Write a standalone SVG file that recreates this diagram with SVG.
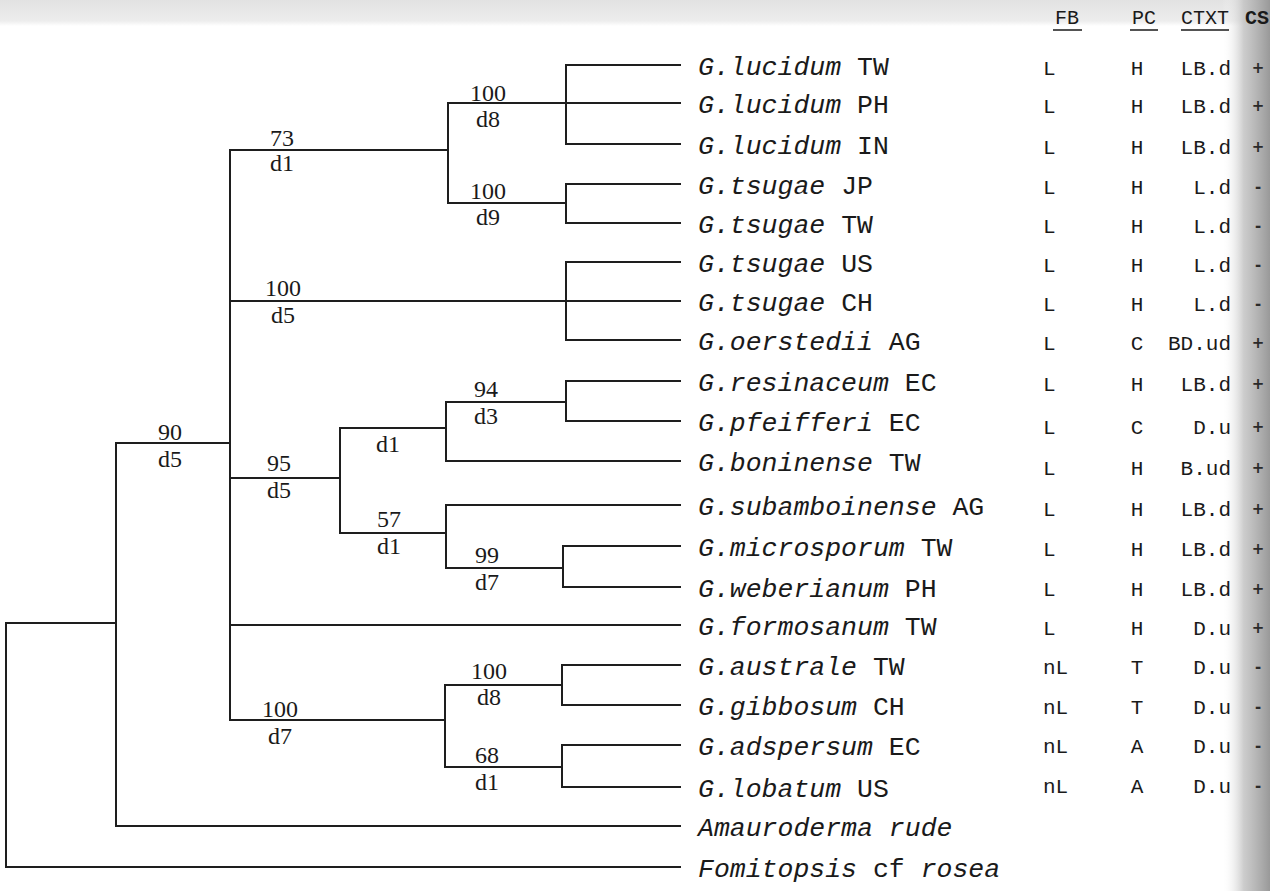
<svg xmlns="http://www.w3.org/2000/svg" width="1270" height="891" viewBox="0 0 1270 891">
  <defs>
    <linearGradient id="shadow" x1="0" y1="0" x2="1" y2="0">
      <stop offset="0" stop-color="#ffffff" stop-opacity="0"/>
      <stop offset="0.45" stop-color="#c4c4c4" stop-opacity="0.85"/>
      <stop offset="1" stop-color="#999999" stop-opacity="1"/>
    </linearGradient>
    <linearGradient id="topband" x1="0" y1="0" x2="0" y2="1">
      <stop offset="0" stop-color="#e2e2e2"/>
      <stop offset="0.8" stop-color="#ededed"/>
      <stop offset="1" stop-color="#ffffff"/>
    </linearGradient>
  </defs>
  <style>
    .br { fill: none; stroke: #1e1e1e; stroke-width: 2; stroke-linecap: square; }
    .tx { font-family: "Liberation Mono", "Courier New", monospace; font-size: 26.5px; fill: #1a1a1a; }
    .it { font-style: italic; }
    .sup { font-family: "Liberation Serif", "Times New Roman", serif; font-size: 24px; fill: #1a1a1a; text-anchor: middle; }
    .col { font-family: "Liberation Mono", "Courier New", monospace; font-size: 21px; fill: #1a1a1a; }
    .fb { text-anchor: start; }
    .pc { text-anchor: middle; }
    .ct { text-anchor: end; }
    .hd { font-family: "Liberation Mono", "Courier New", monospace; font-size: 20px; fill: #1a1a1a; }
    .ul { stroke: #1a1a1a; stroke-width: 1.5; }
    .sg { font-family: "DejaVu Sans", sans-serif; font-size: 15px; font-weight: bold; fill: #2a2a2a; text-anchor: middle; }
  </style>

  <rect x="0" y="0" width="1270" height="891" fill="#ffffff"/>
  <rect x="0" y="0" width="1270" height="26" fill="url(#topband)"/>
  <rect x="1222" y="0" width="48" height="891" fill="url(#shadow)"/>

  <!-- column headers -->
  <g id="headers">
    <text class="hd" x="1067" y="24" text-anchor="middle">FB</text>
    <line class="ul" x1="1053" y1="30" x2="1082" y2="30"/>
    <text class="hd" x="1144" y="24" text-anchor="middle">PC</text>
    <line class="ul" x1="1130" y1="30" x2="1158" y2="30"/>
    <text class="hd" x="1205" y="24" text-anchor="middle">CTXT</text>
    <line class="ul" x1="1181" y1="30" x2="1229" y2="30"/>
    <text class="hd" x="1245" y="24" font-size="15" font-weight="bold">CS</text>
  </g>

  <!-- connectors (tree branches) -->
  <g id="connectors">
    <path class="br" d="
      M6,623 V867 M6,623 H116 M6,867 H680
      M116,443 V826 M116,443 H230 M116,826 H680
      M230,150 V720
      M230,150 H448 M448,103 V203
      M448,103 H680 M566,65 V144 M566,65 H680 M566,144 H680
      M448,203 H566 M566,184 V223 M566,184 H680 M566,223 H680
      M230,301 H680 M566,262 V340 M566,262 H680 M566,340 H680
      M230,478 H340 M340,428 V533
      M340,428 H446 M446,402 V461 M446,461 H680
      M446,402 H566 M566,381 V421 M566,381 H680 M566,421 H680
      M340,533 H446 M446,505 V568 M446,505 H680
      M446,568 H563 M563,546 V587 M563,546 H680 M563,587 H680
      M230,625 H680
      M230,720 H445 M445,685 V767
      M445,685 H562 M562,665 V705 M562,665 H680 M562,705 H680
      M445,767 H562 M562,745 V787 M562,745 H680 M562,787 H680
    "/>
  </g>

  <!-- support / distance labels of internal nodes -->
  <g id="n-root90"><text class="sup" x="170" y="440">90</text><text class="sup" x="170" y="467">d5</text></g>
  <g id="n-lucts"><text class="sup" x="282" y="146">73</text><text class="sup" x="282" y="171">d1</text></g>
  <g id="n-luc"><text class="sup" x="488" y="101">100</text><text class="sup" x="488" y="127">d8</text></g>
  <g id="n-tsjp"><text class="sup" x="488" y="199">100</text><text class="sup" x="488" y="225">d9</text></g>
  <g id="n-tsus"><text class="sup" x="283" y="296">100</text><text class="sup" x="283" y="323">d5</text></g>
  <g id="n-95"><text class="sup" x="279" y="471">95</text><text class="sup" x="279" y="498">d5</text></g>
  <g id="n-res-bon"><text class="sup" x="388" y="452">d1</text></g>
  <g id="n-res"><text class="sup" x="486" y="397">94</text><text class="sup" x="486" y="424">d3</text></g>
  <g id="n-57"><text class="sup" x="389" y="527">57</text><text class="sup" x="389" y="554">d1</text></g>
  <g id="n-mic"><text class="sup" x="487" y="563">99</text><text class="sup" x="487" y="590">d7</text></g>
  <g id="n-aus-lob"><text class="sup" x="280" y="717">100</text><text class="sup" x="280" y="744">d7</text></g>
  <g id="n-aus"><text class="sup" x="489" y="679">100</text><text class="sup" x="489" y="705">d8</text></g>
  <g id="n-ads"><text class="sup" x="487" y="763">68</text><text class="sup" x="487" y="790">d1</text></g>

  <!-- leaves -->
  <g id="leaf-lucidum-TW"><text class="tx" x="698" y="75"><tspan class="it">G.lucidum</tspan> TW</text>
    <text class="col fb" x="1043" y="75">L</text><text class="col pc" x="1137" y="75">H</text><text class="col ct" x="1231" y="75">LB.d</text><text class="sg" x="1258" y="73">+</text></g>
  <g id="leaf-lucidum-PH"><text class="tx" x="698" y="113"><tspan class="it">G.lucidum</tspan> PH</text>
    <text class="col fb" x="1043" y="113">L</text><text class="col pc" x="1137" y="113">H</text><text class="col ct" x="1231" y="113">LB.d</text><text class="sg" x="1258" y="111">+</text></g>
  <g id="leaf-lucidum-IN"><text class="tx" x="698" y="154"><tspan class="it">G.lucidum</tspan> IN</text>
    <text class="col fb" x="1043" y="154">L</text><text class="col pc" x="1137" y="154">H</text><text class="col ct" x="1231" y="154">LB.d</text><text class="sg" x="1258" y="152">+</text></g>
  <g id="leaf-tsugae-JP"><text class="tx" x="698" y="194"><tspan class="it">G.tsugae</tspan> JP</text>
    <text class="col fb" x="1043" y="194">L</text><text class="col pc" x="1137" y="194">H</text><text class="col ct" x="1231" y="194">L.d</text><text class="sg" x="1258" y="192">-</text></g>
  <g id="leaf-tsugae-TW"><text class="tx" x="698" y="233"><tspan class="it">G.tsugae</tspan> TW</text>
    <text class="col fb" x="1043" y="233">L</text><text class="col pc" x="1137" y="233">H</text><text class="col ct" x="1231" y="233">L.d</text><text class="sg" x="1258" y="231">-</text></g>
  <g id="leaf-tsugae-US"><text class="tx" x="698" y="272"><tspan class="it">G.tsugae</tspan> US</text>
    <text class="col fb" x="1043" y="272">L</text><text class="col pc" x="1137" y="272">H</text><text class="col ct" x="1231" y="272">L.d</text><text class="sg" x="1258" y="270">-</text></g>
  <g id="leaf-tsugae-CH"><text class="tx" x="698" y="311"><tspan class="it">G.tsugae</tspan> CH</text>
    <text class="col fb" x="1043" y="311">L</text><text class="col pc" x="1137" y="311">H</text><text class="col ct" x="1231" y="311">L.d</text><text class="sg" x="1258" y="309">-</text></g>
  <g id="leaf-oerstedii-AG"><text class="tx" x="698" y="350"><tspan class="it">G.oerstedii</tspan> AG</text>
    <text class="col fb" x="1043" y="350">L</text><text class="col pc" x="1137" y="350">C</text><text class="col ct" x="1231" y="350">BD.ud</text><text class="sg" x="1258" y="348">+</text></g>
  <g id="leaf-resinaceum-EC"><text class="tx" x="698" y="391"><tspan class="it">G.resinaceum</tspan> EC</text>
    <text class="col fb" x="1043" y="391">L</text><text class="col pc" x="1137" y="391">H</text><text class="col ct" x="1231" y="391">LB.d</text><text class="sg" x="1258" y="389">+</text></g>
  <g id="leaf-pfeifferi-EC"><text class="tx" x="698" y="431"><tspan class="it">G.pfeifferi</tspan> EC</text>
    <text class="col fb" x="1043" y="434">L</text><text class="col pc" x="1137" y="434">C</text><text class="col ct" x="1231" y="434">D.u</text><text class="sg" x="1258" y="432">+</text></g>
  <g id="leaf-boninense-TW"><text class="tx" x="698" y="471"><tspan class="it">G.boninense</tspan> TW</text>
    <text class="col fb" x="1043" y="475">L</text><text class="col pc" x="1137" y="475">H</text><text class="col ct" x="1231" y="475">B.ud</text><text class="sg" x="1258" y="473">+</text></g>
  <g id="leaf-subamboinense-AG"><text class="tx" x="698" y="515"><tspan class="it">G.subamboinense</tspan> AG</text>
    <text class="col fb" x="1043" y="516">L</text><text class="col pc" x="1137" y="516">H</text><text class="col ct" x="1231" y="516">LB.d</text><text class="sg" x="1258" y="514">+</text></g>
  <g id="leaf-microsporum-TW"><text class="tx" x="698" y="556"><tspan class="it">G.microsporum</tspan> TW</text>
    <text class="col fb" x="1043" y="556">L</text><text class="col pc" x="1137" y="556">H</text><text class="col ct" x="1231" y="556">LB.d</text><text class="sg" x="1258" y="554">+</text></g>
  <g id="leaf-weberianum-PH"><text class="tx" x="698" y="597"><tspan class="it">G.weberianum</tspan> PH</text>
    <text class="col fb" x="1043" y="596">L</text><text class="col pc" x="1137" y="596">H</text><text class="col ct" x="1231" y="596">LB.d</text><text class="sg" x="1258" y="594">+</text></g>
  <g id="leaf-formosanum-TW"><text class="tx" x="698" y="635"><tspan class="it">G.formosanum</tspan> TW</text>
    <text class="col fb" x="1043" y="635">L</text><text class="col pc" x="1137" y="635">H</text><text class="col ct" x="1231" y="635">D.u</text><text class="sg" x="1258" y="633">+</text></g>
  <g id="leaf-australe-TW"><text class="tx" x="698" y="675"><tspan class="it">G.australe</tspan> TW</text>
    <text class="col fb" x="1043" y="674">nL</text><text class="col pc" x="1137" y="674">T</text><text class="col ct" x="1231" y="674">D.u</text><text class="sg" x="1258" y="672">-</text></g>
  <g id="leaf-gibbosum-CH"><text class="tx" x="698" y="715"><tspan class="it">G.gibbosum</tspan> CH</text>
    <text class="col fb" x="1043" y="714">nL</text><text class="col pc" x="1137" y="714">T</text><text class="col ct" x="1231" y="714">D.u</text><text class="sg" x="1258" y="712">-</text></g>
  <g id="leaf-adspersum-EC"><text class="tx" x="698" y="755"><tspan class="it">G.adspersum</tspan> EC</text>
    <text class="col fb" x="1043" y="753">nL</text><text class="col pc" x="1137" y="753">A</text><text class="col ct" x="1231" y="753">D.u</text><text class="sg" x="1258" y="751">-</text></g>
  <g id="leaf-lobatum-US"><text class="tx" x="698" y="797"><tspan class="it">G.lobatum</tspan> US</text>
    <text class="col fb" x="1043" y="793">nL</text><text class="col pc" x="1137" y="793">A</text><text class="col ct" x="1231" y="793">D.u</text><text class="sg" x="1258" y="791">-</text></g>
  <g id="leaf-amauroderma"><text class="tx it" x="698" y="836">Amauroderma rude</text></g>
  <g id="leaf-fomitopsis"><text class="tx" x="698" y="877"><tspan class="it">Fomitopsis</tspan> cf <tspan class="it">rosea</tspan></text></g>
</svg>
